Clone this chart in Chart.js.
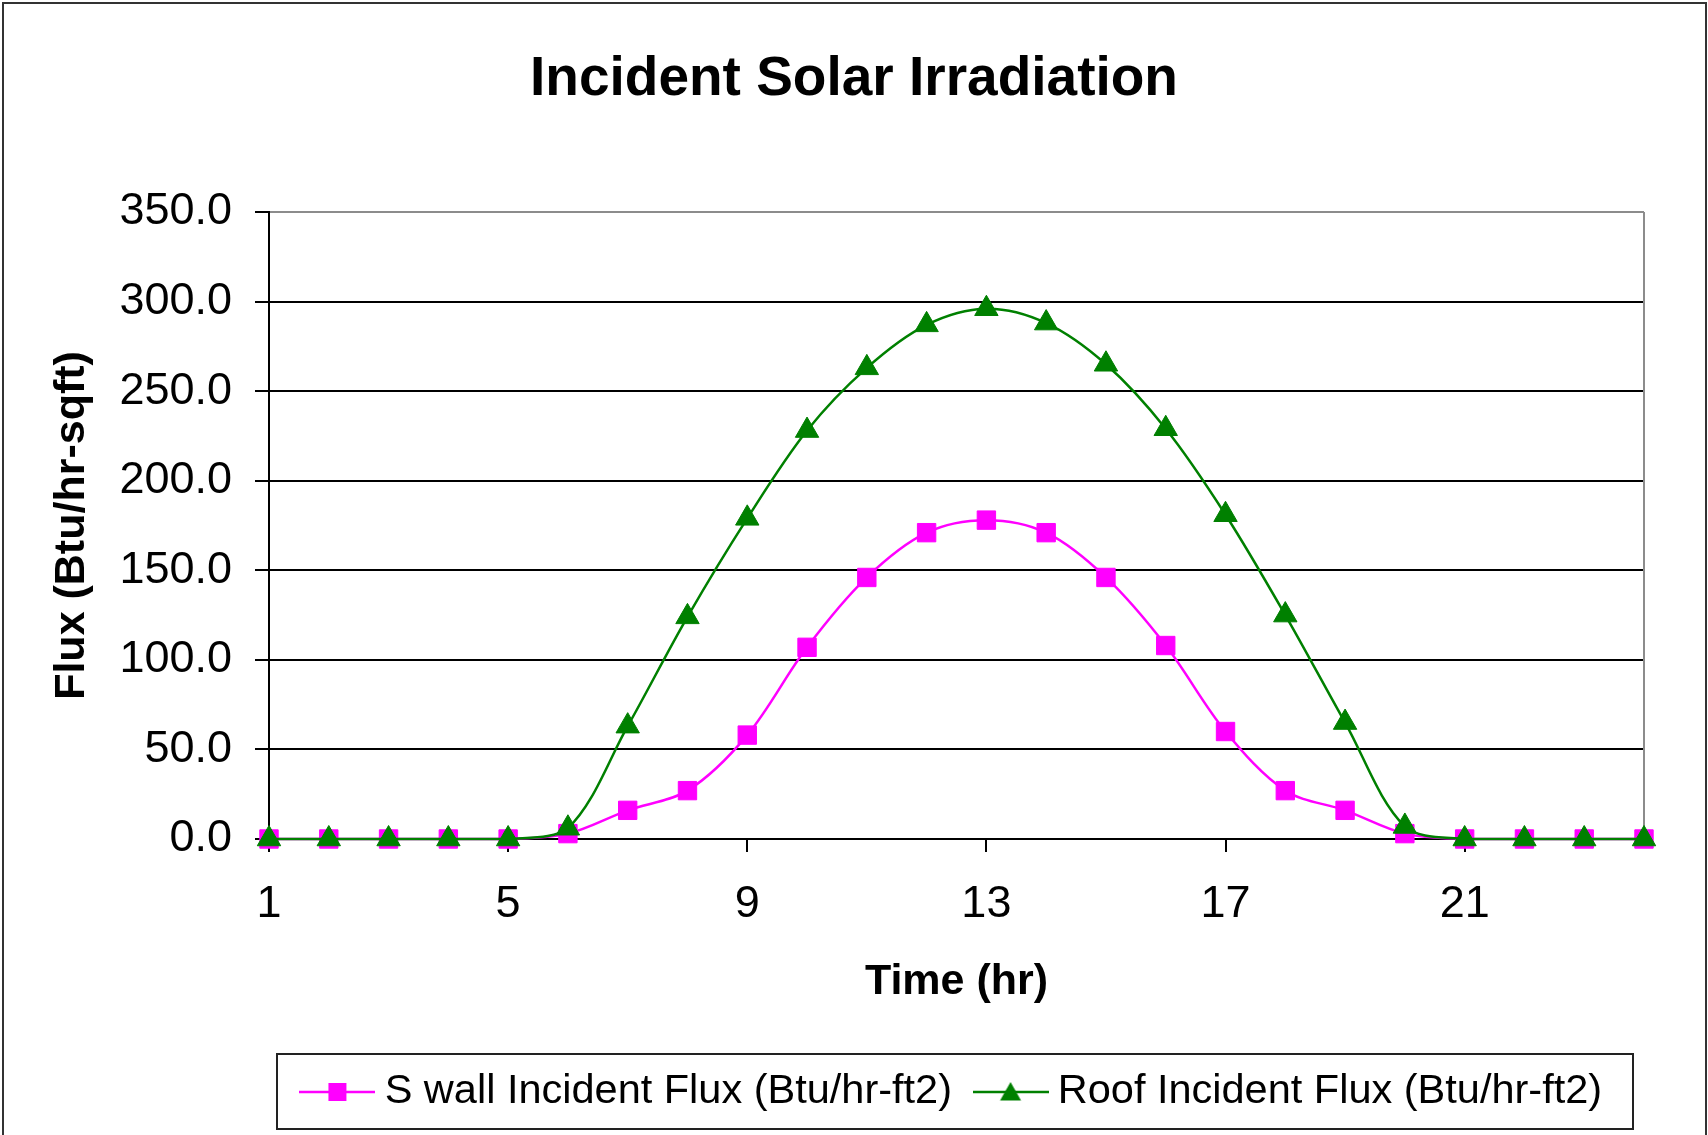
<!DOCTYPE html>
<html>
<head>
<meta charset="utf-8">
<script src="https://cdn.jsdelivr.net/npm/chart.js@4.4.0/dist/chart.umd.min.js"></script>
<style>
html, body { margin: 0; padding: 0; background: #fff; }
#wrap { width: 1708px; height: 1135px; }
</style>
</head>
<body>
<div id="wrap"><canvas id="chart" width="1708" height="1135"></canvas></div>
<script>
// hours of the day
const hours = [1, 2, 3, 4, 5, 6, 7, 8, 9, 10, 11, 12, 13, 14, 15, 16, 17, 18, 19, 20, 21, 22, 23, 24];
const xTickHours = [1, 5, 9, 13, 17, 21];
const yTicks = [0, 50, 100, 150, 200, 250, 300, 350];

const sWallFlux = [0, 0, 0, 0, 0, 3, 16, 27, 58, 107, 146, 171, 178, 171, 146, 108, 60, 27, 16, 3, 0, 0, 0, 0];
const roofFlux = [0, 0, 0, 0, 0, 6, 63, 124, 179, 228, 263, 287, 296, 288, 265, 229, 181, 125, 65, 7, 0, 0, 0, 0];

const seriesNames = ['S wall Incident Flux (Btu/hr-ft2)', 'Roof Incident Flux (Btu/hr-ft2)'];
const seriesColors = ['#ff00ff', '#008000'];

const fontFamily = "'Liberation Sans', Arial, sans-serif";
const legendFontSize = 41.5;

// little legend pictures : line with the marker in the middle
function makeIcon(color, shape) {
    let c = document.createElement('canvas');
    c.width = 76;
    c.height = 26;
    let g = c.getContext('2d');
    g.strokeStyle = color;
    g.lineWidth = 2.5;
    g.beginPath();
    g.moveTo(0, 13);
    g.lineTo(76, 13);
    g.stroke();
    g.fillStyle = color;
    if (shape == 'rect') {
        g.fillRect(38 - 9, 13 - 9, 18, 18);
    } else {
        g.beginPath();
        g.moveTo(38, 3);
        g.lineTo(48.5, 21.5);
        g.lineTo(27.5, 21.5);
        g.closePath();
        g.fill();
    }
    return c;
}
const legendIcons = [makeIcon(seriesColors[0], 'rect'), makeIcon(seriesColors[1], 'tri')];

const framePlugin = {
    id: 'frame',
    beforeDraw(chart) {
        const ctx = chart.ctx;
        ctx.save();
        ctx.fillStyle = '#fff';
        ctx.fillRect(0, 0, chart.width, chart.height);
        ctx.strokeStyle = '#333';
        ctx.lineWidth = 2;
        ctx.strokeRect(3, 3, chart.width - 5, chart.height + 20);
        ctx.restore();
    },
    beforeDatasetsDraw(chart) {
        const a = chart.chartArea;
        const ctx = chart.ctx;
        ctx.save();
        ctx.strokeStyle = '#8c8c8c';
        ctx.lineWidth = 2;
        ctx.beginPath();
        ctx.moveTo(a.right, a.top);
        ctx.lineTo(a.right, a.bottom);
        ctx.stroke();
        ctx.restore();
    },
    afterDraw(chart) {
        const lg = chart.legend;
        const ctx = chart.ctx;
        const mid = lg.top + lg.options.labels.padding + legendFontSize / 2;
        ctx.save();
        ctx.strokeStyle = '#222';
        ctx.lineWidth = 2;
        ctx.strokeRect(lg.left + 8, mid - 38, lg.width - 19, 75);
        ctx.restore();
    }
};

let chart = document.getElementById('chart').getContext('2d');
let mychart = new Chart(chart, {
    type: 'line',
    data: {
        labels: hours,
        datasets: [{
            label: seriesNames[0],
            data: sWallFlux,
            borderColor: seriesColors[0],
            backgroundColor: seriesColors[0],
            borderWidth: 2.5,
            pointStyle: 'rect',
            pointRadius: 13,
            pointBorderWidth: 1,
            tension: 0.33,
            clip: false,
            order: 1
        }, {
            label: seriesNames[1],
            data: roofFlux,
            borderColor: seriesColors[1],
            backgroundColor: seriesColors[1],
            borderWidth: 2.5,
            pointStyle: 'triangle',
            pointRadius: 13.5,
            pointBorderWidth: 1,
            tension: 0.33,
            clip: false,
            order: 0
        }]
    },
    options: {
        responsive: false,
        animation: false,
        devicePixelRatio: 1,
        layout: {
            padding: { left: 32, right: 32, top: 0, bottom: 12.25 }
        },
        plugins: {
            title: {
                display: true,
                text: 'Incident Solar Irradiation',
                color: '#000',
                font: { family: fontFamily, size: 55, weight: 'bold' },
                padding: { top: 47, bottom: 99 }
            },
            legend: {
                position: 'bottom',
                fullSize: false,
                labels: {
                    color: '#000',
                    font: { family: fontFamily, size: legendFontSize },
                    usePointStyle: true,
                    pointStyleWidth: 53,
                    padding: 32,
                    generateLabels: function (c) {
                        let items = Chart.defaults.plugins.legend.labels.generateLabels(c);
                        items.forEach(function (it) { it.pointStyle = legendIcons[it.datasetIndex]; });
                        return items.sort(function (a, b) { return a.datasetIndex - b.datasetIndex; });
                    }
                }
            },
            tooltip: { enabled: false }
        },
        scales: {
            x: {
                type: 'category',
                offset: false,
                afterFit: function (scale) { scale.height = 200.25; },
                afterBuildTicks: function (scale) {
                    scale.ticks = scale.ticks.filter(function (t) {
                        return xTickHours.indexOf(hours[t.value]) >= 0;
                    });
                },
                ticks: {
                    autoSkip: false,
                    maxRotation: 0,
                    color: '#000',
                    padding: 26,
                    font: { family: fontFamily, size: 45 }
                },
                grid: {
                    drawOnChartArea: false,
                    color: '#000',
                    lineWidth: 2,
                    tickLength: 13
                },
                border: { color: '#000', width: 2 },
                title: {
                    display: true,
                    text: 'Time (hr)',
                    color: '#000',
                    font: { family: fontFamily, size: 43, weight: 'bold' },
                    padding: { top: 0, bottom: 31.5 }
                }
            },
            y: {
                min: 0,
                max: 350,
                afterFit: function (scale) { scale.width = 237; },
                afterBuildTicks: function (scale) {
                    scale.ticks = yTicks.map(function (v) { return { value: v }; });
                },
                ticks: {
                    color: '#000',
                    padding: 23,
                    font: { family: fontFamily, size: 45 },
                    callback: function (v) { return Number(v).toFixed(1); }
                },
                grid: {
                    color: function (c) { return c.tick && c.tick.value == 350 ? '#8c8c8c' : '#000'; },
                    tickColor: '#000',
                    lineWidth: 2,
                    tickLength: 14
                },
                border: { color: '#000', width: 2 },
                title: {
                    display: true,
                    text: 'Flux (Btu/hr-sqft)',
                    color: '#000',
                    font: { family: fontFamily, size: 43, weight: 'bold' },
                    padding: { top: 14, bottom: 0 }
                }
            },
            // empty strip on the right so the plot ends where the original does
            yRight: {
                position: 'right',
                display: true,
                afterFit: function (scale) { scale.width = 32; },
                ticks: { display: false },
                grid: { display: false, drawTicks: false },
                border: { display: false }
            }
        }
    },
    plugins: [framePlugin]
});
</script>
</body>
</html>
